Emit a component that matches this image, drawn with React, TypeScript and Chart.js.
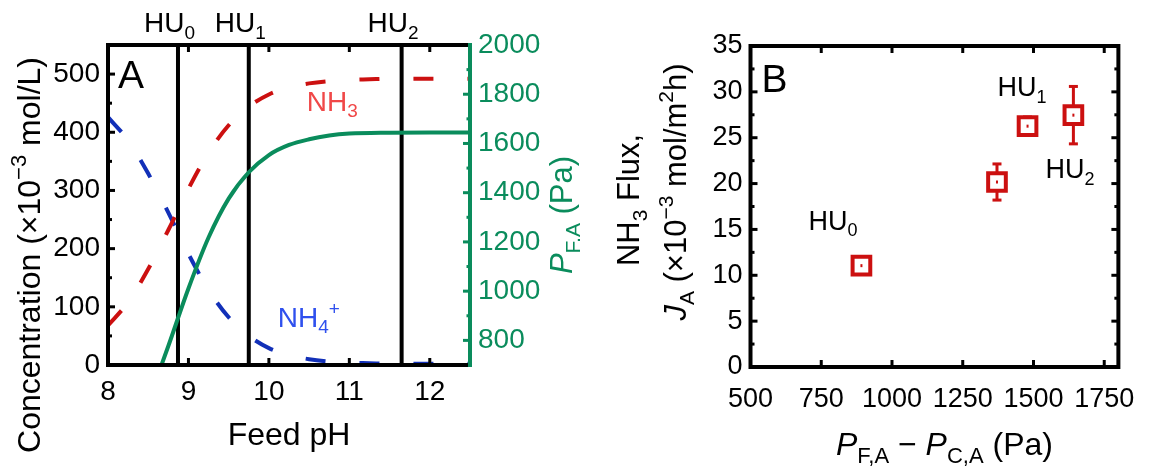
import React, { useEffect, useRef } from 'react';
import { Chart, registerables } from 'chart.js';

Chart.register(...registerables);

const FONT = '"Liberation Sans", Arial, Helvetica, sans-serif';
const BLACK = '#000000';
const GREEN = '#0a8c5c';
const RED = '#cc1010';
const BLUE = '#1230b8';
const RED_TEXT = '#f04848';
const BLUE_TEXT = '#2f50ee';

// ---- Panel A: ammonia speciation and partial pressure vs feed pH ----
const phGrid = [8, 8.25, 8.5, 8.75, 9, 9.25, 9.5, 9.75, 10, 10.25, 10.5, 10.75, 11, 11.25, 11.5, 11.75, 12, 12.25, 12.5];
const nh3Conc = [68, 108, 165, 232, 303, 365, 412, 444, 465, 477, 484, 488, 490, 491, 492, 492, 492, 492, 492];
const nh4Conc = [426, 386, 329, 262, 191, 129, 82, 50, 29, 17, 10, 6, 4, 3, 2, 2, 2, 2, 2];
const phPressure = [8.5, 8.75, 9, 9.25, 9.5, 9.75, 10, 10.25, 10.5, 10.75, 11, 11.5, 12, 12.5];
const pressureFA = [551, 777, 1011, 1218, 1376, 1483, 1553, 1594, 1617, 1632, 1640, 1644, 1645, 1645];
const huNames = ['0', '1', '2'];
const huPH = [8.87, 9.75, 11.65];
const phTicks = [8, 9, 10, 11, 12];
const concTicks = [0, 100, 200, 300, 400, 500];
const pressureTicks = [800, 1000, 1200, 1400, 1600, 1800, 2000];

// ---- Panel B: NH3 flux vs partial pressure difference ----
const deltaP = [892, 1371, 1479, 1641];
const fluxJA = [11.05, 20.17, 26.26, 27.46];
const fluxErr = [0.5, 1.97, 1.0, 3.13];
const fluxNames = ['0', '', '1', '2'];
const deltaPTicks = [500, 750, 1000, 1250, 1500, 1750];
const fluxTicks = [0, 5, 10, 15, 20, 25, 30, 35];

// label placement relative to each marker (px)
const fluxLabelOffset = [
  { dx: -53, dy: -36 },
  { dx: 0, dy: 0 },
  { dx: -30, dy: -30 },
  { dx: -28, dy: 63 },
];

type Seg = { t: string; it?: boolean; sub?: boolean; sup?: boolean };

function segFont(s: Seg, size: number) {
  const sz = s.sub || s.sup ? Math.round(size * 0.68) : size;
  return `${s.it ? 'italic ' : ''}${sz}px ${FONT}`;
}

function richWidth(ctx: CanvasRenderingContext2D, segs: Seg[], size: number) {
  let w = 0;
  for (const s of segs) {
    ctx.font = segFont(s, size);
    w += ctx.measureText(s.t).width;
  }
  return w;
}

// draws mixed text; non-rotated anchor y is the baseline, rotated anchor x is the cap centre
function drawRich(
  ctx: CanvasRenderingContext2D,
  segs: Seg[],
  x: number,
  y: number,
  size: number,
  color: string,
  align: 'left' | 'center' = 'left',
  rotated = false
) {
  const w = richWidth(ctx, segs, size);
  ctx.save();
  ctx.fillStyle = color;
  ctx.textAlign = 'left';
  ctx.textBaseline = 'alphabetic';
  ctx.translate(x, y);
  if (rotated) ctx.rotate(-Math.PI / 2);
  let cx = align === 'center' ? -w / 2 : 0;
  const base = rotated ? size * 0.36 : 0;
  for (const s of segs) {
    ctx.font = segFont(s, size);
    const dy = s.sub ? size * 0.24 : s.sup ? -size * 0.42 : 0;
    ctx.fillText(s.t, cx, base + dy);
    cx += ctx.measureText(s.t).width;
  }
  ctx.restore();
}

function seg(ctx: CanvasRenderingContext2D, x1: number, y1: number, x2: number, y2: number) {
  ctx.beginPath();
  ctx.moveTo(x1, y1);
  ctx.lineTo(x2, y2);
  ctx.stroke();
}

function midpoints(arr: number[]) {
  const out: number[] = [];
  for (let i = 0; i < arr.length - 1; i++) out.push((arr[i] + arr[i + 1]) / 2);
  return out;
}

const tickFont = (size: number) => ({ family: FONT, size });

const panelAPlugin = {
  id: 'panelA',
  afterDraw(chart: any) {
    const { ctx, chartArea: a, scales } = chart;
    const sx = scales.x;
    const sy = scales.y;
    const sy2 = scales.y2;
    ctx.save();
    ctx.lineCap = 'butt';

    // inward tick marks
    ctx.strokeStyle = BLACK;
    ctx.lineWidth = 3;
    for (const v of phTicks) {
      const px = sx.getPixelForValue(v);
      if (px < a.left + 2) continue;
      seg(ctx, px, a.bottom, px, a.bottom - 7);
      seg(ctx, px, a.top, px, a.top + 7);
    }
    for (const v of concTicks) seg(ctx, a.left, sy.getPixelForValue(v), a.left + 7, sy.getPixelForValue(v));
    const concMinor = [...midpoints(concTicks), concTicks[concTicks.length - 1] + 50];
    for (const v of concMinor) {
      seg(ctx, a.left, sy.getPixelForValue(v), a.left + 4, sy.getPixelForValue(v));
    }
    ctx.strokeStyle = GREEN;
    for (const v of pressureTicks) seg(ctx, a.right, sy2.getPixelForValue(v), a.right - 7, sy2.getPixelForValue(v));
    for (const v of midpoints(pressureTicks)) seg(ctx, a.right, sy2.getPixelForValue(v), a.right - 3.5, sy2.getPixelForValue(v));

    // frame
    ctx.lineWidth = 4;
    ctx.strokeStyle = BLACK;
    ctx.beginPath();
    ctx.moveTo(a.right, a.top);
    ctx.lineTo(a.left, a.top);
    ctx.lineTo(a.left, a.bottom);
    ctx.lineTo(a.right, a.bottom);
    ctx.stroke();
    ctx.strokeStyle = GREEN;
    seg(ctx, a.right, a.top - 2, a.right, a.bottom + 2);
    ctx.restore();

    // panel letter
    drawRich(ctx, [{ t: 'A' }], a.left + 10, a.top + 43, 39, BLACK);

    // HU markers above the frame
    huPH.forEach((p, i) => {
      drawRich(ctx, [{ t: 'HU' }, { t: huNames[i], sub: true }], sx.getPixelForValue(p) - 34, a.top - 13, 28, BLACK);
    });

    // curve labels
    drawRich(ctx, [{ t: 'NH' }, { t: '3', sub: true }], sx.getPixelForValue(10.47), sy.getPixelForValue(437), 28, RED_TEXT);
    drawRich(
      ctx,
      [{ t: 'NH' }, { t: '4', sub: true }, { t: '+', sup: true }],
      sx.getPixelForValue(10.11),
      sy.getPixelForValue(66),
      28,
      BLUE_TEXT
    );

    // axis titles
    drawRich(ctx, [{ t: 'Feed pH' }], (a.left + a.right) / 2, 445, 32, BLACK, 'center');
    drawRich(
      ctx,
      [{ t: 'Concentration (×10' }, { t: '−3', sup: true }, { t: ' mol/L)' }],
      28,
      255,
      32,
      BLACK,
      'center',
      true
    );
    drawRich(
      ctx,
      [{ t: 'P', it: true }, { t: 'F,A', sub: true }, { t: ' (Pa)' }],
      561,
      215,
      31,
      GREEN,
      'center',
      true
    );
  },
};

const panelBPlugin = {
  id: 'panelB',
  beforeDatasetsDraw(chart: any) {
    const { ctx, scales } = chart;
    const sx = scales.x;
    const sy = scales.y;
    ctx.save();
    ctx.strokeStyle = RED;
    ctx.lineWidth = 3;
    deltaP.forEach((p, i) => {
      const px = sx.getPixelForValue(p);
      const top = sy.getPixelForValue(fluxJA[i] + fluxErr[i]);
      const bot = sy.getPixelForValue(fluxJA[i] - fluxErr[i]);
      seg(ctx, px, top, px, bot);
      seg(ctx, px - 4.5, top, px + 4.5, top);
      seg(ctx, px - 4.5, bot, px + 4.5, bot);
    });
    ctx.restore();
  },
  afterDatasetsDraw(chart: any) {
    const { ctx, scales } = chart;
    const sx = scales.x;
    const sy = scales.y;
    ctx.save();
    ctx.fillStyle = RED;
    deltaP.forEach((p, i) => {
      const px = sx.getPixelForValue(p);
      const py = sy.getPixelForValue(fluxJA[i]);
      ctx.fillRect(px - 1, py - 1.5, 2, 3);
      if (fluxNames[i]) {
        const o = fluxLabelOffset[i];
        drawRich(ctx, [{ t: 'HU' }, { t: fluxNames[i], sub: true }], px + o.dx, py + o.dy, 27, BLACK);
      }
    });
    ctx.restore();
  },
  afterDraw(chart: any) {
    const { ctx, chartArea: a, scales } = chart;
    const sx = scales.x;
    const sy = scales.y;
    ctx.save();
    ctx.lineCap = 'butt';
    ctx.strokeStyle = BLACK;
    ctx.lineWidth = 3;
    for (const v of deltaPTicks) {
      const px = sx.getPixelForValue(v);
      if (px < a.left + 2) continue;
      seg(ctx, px, a.bottom, px, a.bottom - 7);
      seg(ctx, px, a.top, px, a.top + 7);
    }
    for (const v of fluxTicks) {
      const py = sy.getPixelForValue(v);
      seg(ctx, a.left, py, a.left + 7, py);
      seg(ctx, a.right, py, a.right - 7, py);
    }
    for (const v of midpoints(fluxTicks)) {
      const py = sy.getPixelForValue(v);
      seg(ctx, a.left, py, a.left + 4, py);
      seg(ctx, a.right, py, a.right - 4, py);
    }
    ctx.lineWidth = 4;
    ctx.strokeRect(a.left, a.top, a.right - a.left, a.bottom - a.top);
    ctx.restore();

    drawRich(ctx, [{ t: 'B' }], a.left + 11, a.top + 46, 39, BLACK);

    drawRich(
      ctx,
      [{ t: 'P', it: true }, { t: 'F,A', sub: true }, { t: ' − ' }, { t: 'P', it: true }, { t: 'C,A', sub: true }, { t: ' (Pa)' }],
      (a.left + a.right) / 2 + 10,
      455,
      32,
      BLACK,
      'center'
    );
    drawRich(ctx, [{ t: 'NH' }, { t: '3', sub: true }, { t: ' Flux,' }], 48, 200, 31, BLACK, 'center', true);
    drawRich(
      ctx,
      [
        { t: 'J', it: true },
        { t: 'A', sub: true },
        { t: ' (×10' },
        { t: '−3', sup: true },
        { t: ' mol/m' },
        { t: '2', sup: true },
        { t: 'h)' },
      ],
      95,
      192,
      31,
      BLACK,
      'center',
      true
    );
  },
};

function makeConfigA(): any {
  const curve = (xs: number[], ys: number[]) => xs.map((x, i) => ({ x, y: ys[i] }));
  const vertical = huPH.map((p) => ({
    data: [
      { x: p, y: 0 },
      { x: p, y: 550 },
    ],
    yAxisID: 'y',
    borderColor: BLACK,
    borderWidth: 4,
    pointRadius: 0,
    fill: false,
  }));
  return {
    type: 'line',
    data: {
      datasets: [
        {
          data: curve(phPressure, pressureFA),
          yAxisID: 'y2',
          borderColor: GREEN,
          borderWidth: 4,
          pointRadius: 0,
          cubicInterpolationMode: 'monotone',
          fill: false,
        },
        {
          data: curve(phGrid, nh3Conc),
          yAxisID: 'y',
          borderColor: RED,
          borderWidth: 4,
          borderDash: [20, 34],
          borderCapStyle: 'butt',
          pointRadius: 0,
          cubicInterpolationMode: 'monotone',
          fill: false,
        },
        {
          data: curve(phGrid, nh4Conc),
          yAxisID: 'y',
          borderColor: BLUE,
          borderWidth: 4,
          borderDash: [20, 34],
          borderCapStyle: 'butt',
          pointRadius: 0,
          cubicInterpolationMode: 'monotone',
          fill: false,
        },
        ...vertical,
      ],
    },
    options: {
      animation: false,
      responsive: false,
      maintainAspectRatio: false,
      devicePixelRatio: 1,
      layout: { padding: { top: 45, left: 0, right: 0, bottom: 0 } },
      plugins: { legend: { display: false }, tooltip: { enabled: false } },
      scales: {
        x: {
          type: 'linear',
          position: 'bottom',
          min: 8,
          max: 12.5,
          afterBuildTicks: (s: any) => {
            s.ticks = phTicks.map((v) => ({ value: v }));
          },
          afterFit: (s: any) => {
            s.height = 103;
          },
          grid: { display: false, drawTicks: false },
          border: { display: false },
          ticks: { font: tickFont(28), color: BLACK, padding: 10, autoSkip: false, maxRotation: 0, callback: (v: any) => String(v) },
        },
        y: {
          type: 'linear',
          position: 'left',
          min: 0,
          max: 550,
          afterBuildTicks: (s: any) => {
            s.ticks = concTicks.map((v) => ({ value: v }));
          },
          afterFit: (s: any) => {
            s.width = 108;
          },
          grid: { display: false, drawTicks: false },
          border: { display: false },
          ticks: { font: tickFont(28), color: BLACK, padding: 8, autoSkip: false, callback: (v: any) => String(v) },
        },
        y2: {
          type: 'linear',
          position: 'right',
          min: 700,
          max: 2000,
          afterBuildTicks: (s: any) => {
            s.ticks = pressureTicks.map((v) => ({ value: v }));
          },
          afterFit: (s: any) => {
            s.width = 110;
          },
          grid: { display: false, drawTicks: false },
          border: { display: false },
          ticks: { font: tickFont(28), color: GREEN, padding: 8, autoSkip: false, callback: (v: any) => String(v) },
        },
      },
    },
    plugins: [panelAPlugin],
  };
}

function makeConfigB(): any {
  return {
    type: 'scatter',
    data: {
      datasets: [
        {
          data: deltaP.map((x, i) => ({ x, y: fluxJA[i] })),
          pointStyle: 'rect',
          pointRadius: 12.5,
          pointHoverRadius: 12.5,
          borderWidth: 4,
          borderColor: RED,
          backgroundColor: '#ffffff',
        },
      ],
    },
    options: {
      animation: false,
      responsive: false,
      maintainAspectRatio: false,
      devicePixelRatio: 1,
      layout: { padding: { top: 46, left: 0, right: 19, bottom: 0 } },
      plugins: { legend: { display: false }, tooltip: { enabled: false } },
      scales: {
        x: {
          type: 'linear',
          position: 'bottom',
          min: 500,
          max: 1800,
          afterBuildTicks: (s: any) => {
            s.ticks = deltaPTicks.map((v) => ({ value: v }));
          },
          afterFit: (s: any) => {
            s.height = 101;
          },
          grid: { display: false, drawTicks: false },
          border: { display: false },
          ticks: { font: tickFont(27), color: BLACK, padding: 16, autoSkip: false, maxRotation: 0, callback: (v: any) => String(v) },
        },
        y: {
          type: 'linear',
          position: 'left',
          min: 0,
          max: 35,
          afterBuildTicks: (s: any) => {
            s.ticks = fluxTicks.map((v) => ({ value: v }));
          },
          afterFit: (s: any) => {
            s.width = 170.5;
          },
          grid: { display: false, drawTicks: false },
          border: { display: false },
          ticks: { font: tickFont(27), color: BLACK, padding: 8, autoSkip: false, callback: (v: any) => String(v) },
        },
      },
    },
    plugins: [panelBPlugin],
  };
}

export default function App() {
  const refA = useRef<HTMLCanvasElement>(null);
  const refB = useRef<HTMLCanvasElement>(null);

  useEffect(() => {
    const chartA = new Chart(refA.current as HTMLCanvasElement, makeConfigA());
    const chartB = new Chart(refB.current as HTMLCanvasElement, makeConfigB());
    return () => {
      chartA.destroy();
      chartB.destroy();
    };
  }, []);

  return (
    <div style={{ position: 'fixed', left: 0, top: 0, width: 1151, height: 468, background: '#ffffff', overflow: 'hidden' }}>
      <canvas ref={refA} width={580} height={468} style={{ position: 'absolute', left: 0, top: 0 }} />
      <canvas ref={refB} width={571} height={468} style={{ position: 'absolute', left: 580, top: 0 }} />
    </div>
  );
}
